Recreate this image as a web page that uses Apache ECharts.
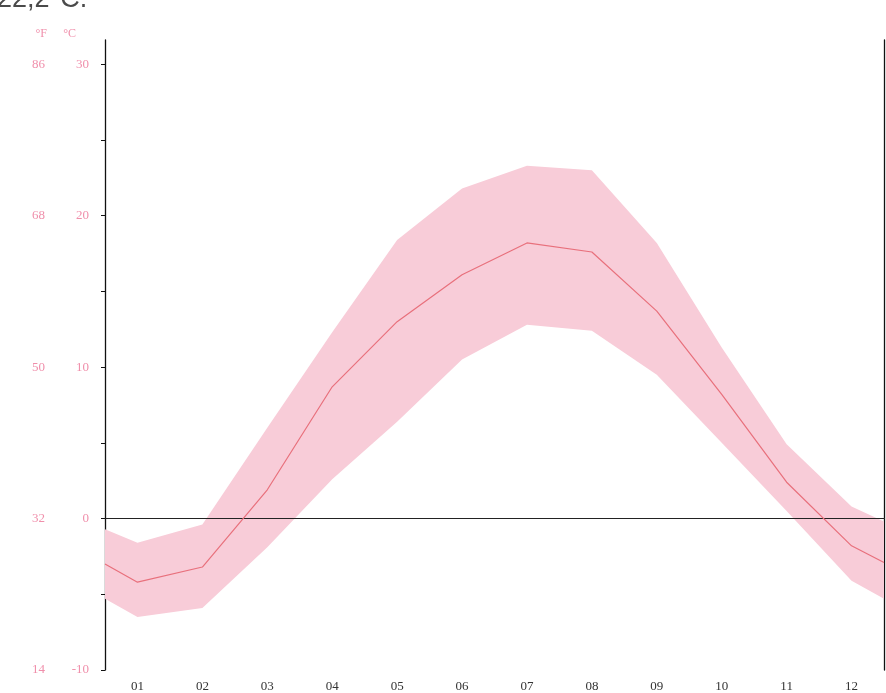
<!DOCTYPE html>
<html>
<head>
<meta charset="utf-8">
<script src="https://cdn.jsdelivr.net/npm/echarts@6/dist/echarts.min.js"></script>
<style>
  html, body { margin: 0; padding: 0; background: #fff; }
  #climateChart { width: 886px; height: 693px; }
</style>
</head>
<body>
<div id="climateChart"></div>
<script>
// month labels on the category axis
const months = ['01', '02', '03', '04', '05', '06', '07', '08', '09', '10', '11', '12'];
// x positions of the points (month centres, plus both chart edges)
const xPositions = [0.5, 1, 2, 3, 4, 5, 6, 7, 8, 9, 10, 11, 12, 12.5];
// mean temperature, °C
const meanTemp = [-3.0, -4.2, -3.2, 1.9, 8.7, 13.0, 16.1, 18.2, 17.6, 13.7, 8.2, 2.4, -1.8, -2.9];
// upper / lower edge of the pink band, °C
const upperTemp = [-0.7, -1.6, -0.4, 6.0, 12.3, 18.4, 21.8, 23.3, 23.0, 18.2, 11.3, 4.9, 0.8, -0.2];
const lowerTemp = [-5.3, -6.5, -5.9, -1.9, 2.6, 6.4, 10.5, 12.8, 12.4, 9.5, 5.0, 0.5, -4.1, -5.3];
// tick labels
const celsiusTicks = [-10, 0, 10, 20, 30];
const fahrenheitTicks = [14, 32, 50, 68, 86];
const minorTicks = [-10, -5, 0, 5, 10, 15, 20, 25, 30];

const pink = '#f08fab';
const serif = 'Liberation Serif';

const chart = echarts.init(document.getElementById('climateChart'));

// band between lower and upper edge, drawn as one polygon
function renderBand(params, api) {
  if (params.dataIndex !== 0) return null;
  const top = xPositions.map((x, i) => api.coord([x, upperTemp[i]]));
  const bottom = xPositions.map((x, i) => api.coord([x, lowerTemp[i]])).reverse();
  return {
    type: 'polygon',
    shape: { points: top.concat(bottom) },
    style: { fill: '#f8ccd8' }
  };
}

chart.setOption({
  animation: false,
  backgroundColor: '#fff',
  grid: { left: 105, top: 40, width: 779, bottom: 21 },
  graphic: [{
    type: 'text',
    left: -3,
    top: -14,
    style: { text: '22,2°C.', font: '27px "Liberation Sans"', fill: '#4a4a4a' }
  }],
  xAxis: [{
    type: 'category',
    data: months,
    boundaryGap: true,
    axisLine: { lineStyle: { color: '#555', width: 1 } },
    axisTick: { length: 4, lineStyle: { color: '#333' } },
    axisLabel: { color: '#333', fontFamily: serif, fontSize: 13, margin: 10 }
  }, {
    type: 'value',
    min: 0.5,
    max: 12.5,
    show: false
  }],
  yAxis: [{
    type: 'value',
    min: -10,
    max: 31.6,
    name: '°C',
    nameLocation: 'end',
    nameGap: 0,
    nameTextStyle: { color: pink, fontFamily: serif, fontSize: 12, align: 'right', padding: [0, 29, 0, 0] },
    splitLine: { show: false },
    axisLine: { show: true, lineStyle: { color: '#111', width: 1.3 } },
    axisTick: { show: true, length: 4, customValues: minorTicks, lineStyle: { color: '#111' } },
    axisLabel: { color: pink, fontFamily: serif, fontSize: 13, margin: 16, customValues: celsiusTicks }
  }, {
    type: 'value',
    min: -10,
    max: 31.6,
    position: 'left',
    offset: 48,
    name: '°F',
    nameLocation: 'end',
    nameGap: 0,
    nameTextStyle: { color: pink, fontFamily: serif, fontSize: 12, align: 'right', padding: [0, 10, 0, 0] },
    splitLine: { show: false },
    axisLine: { show: false },
    axisTick: { show: false },
    axisLabel: {
      color: pink, fontFamily: serif, fontSize: 13, margin: 12,
      customValues: celsiusTicks,
      formatter: v => String(fahrenheitTicks[celsiusTicks.indexOf(v)])
    }
  }, {
    type: 'value',
    min: -10,
    max: 31.6,
    position: 'right',
    splitLine: { show: false },
    axisLine: { show: true, lineStyle: { color: '#111', width: 1.3 } },
    axisTick: { show: false },
    axisLabel: { show: false }
  }],
  series: [{
    name: 'band',
    type: 'custom',
    xAxisIndex: 1,
    renderItem: renderBand,
    encode: { x: 0, y: [1, 2] },
    data: xPositions.map((x, i) => [x, lowerTemp[i], upperTemp[i]])
  }, {
    name: 'mean',
    type: 'line',
    xAxisIndex: 1,
    symbol: 'none',
    z: 5,
    lineStyle: { color: '#e8707c', width: 1.2 },
    data: xPositions.map((x, i) => [x, meanTemp[i]]),
    markLine: {
      silent: true,
      symbol: 'none',
      label: { show: false },
      lineStyle: { color: '#222', type: 'solid', width: 1.2 },
      data: [{ yAxis: 0 }]
    }
  }]
});
</script>
</body>
</html>
